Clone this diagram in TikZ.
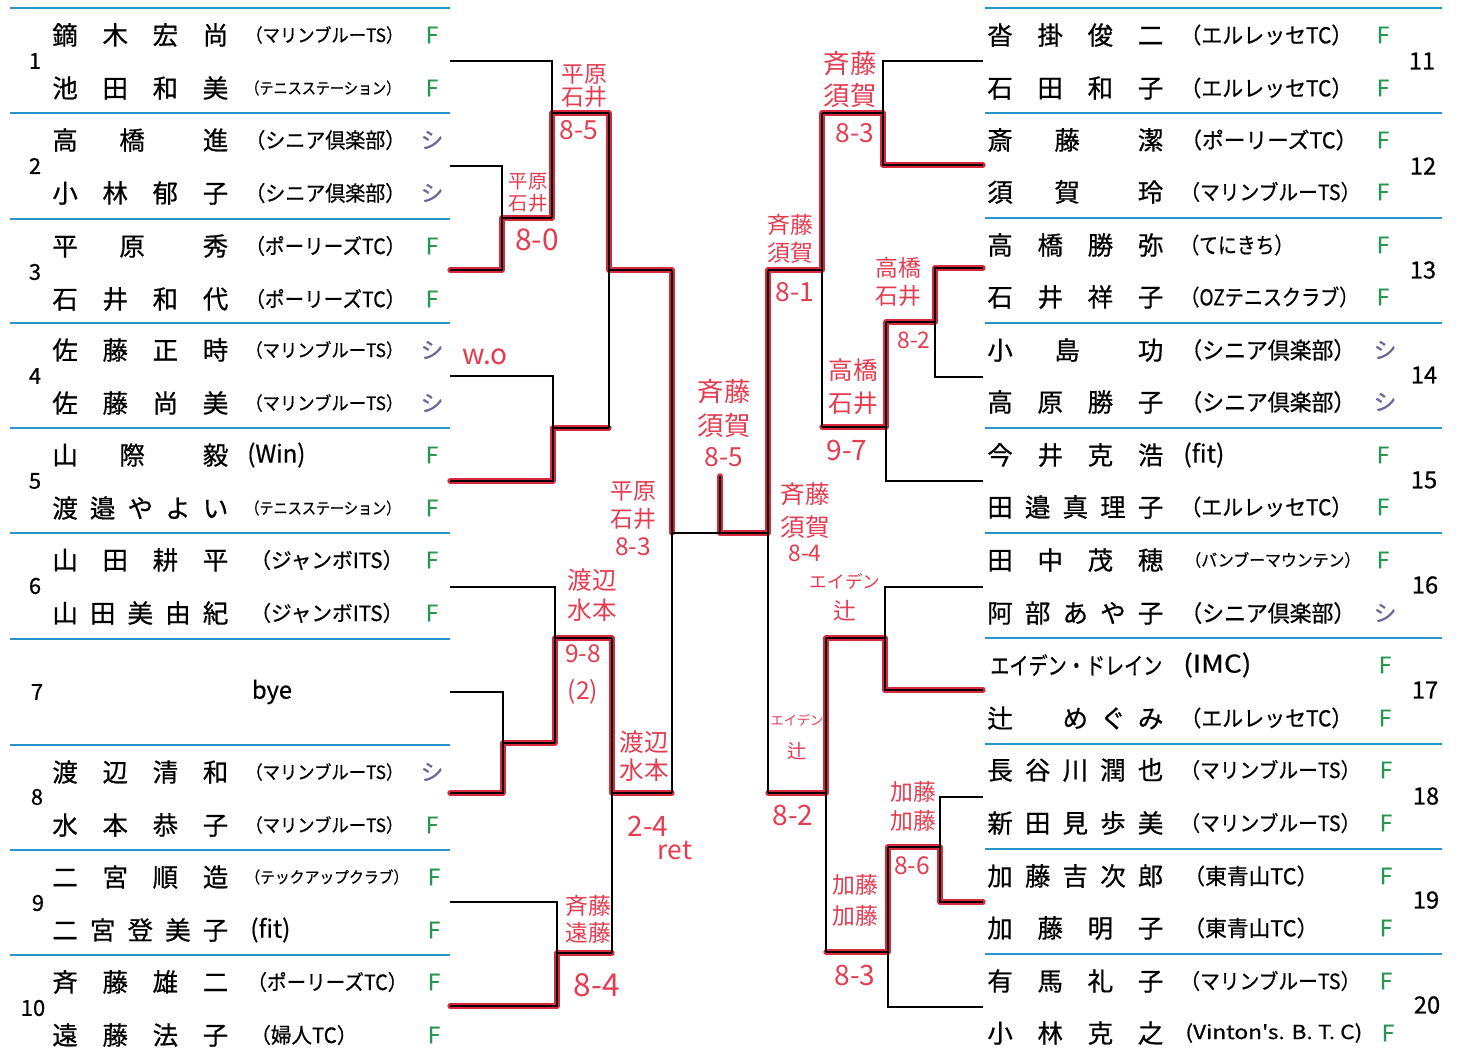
\documentclass[tikz,border=0pt]{standalone}
\usepackage{fontspec}
\usepackage{graphicx}
\setmainfont{Noto Sans CJK JP}
\newfontfamily\prt{Noto Sans CJK JP}[FakeBold=0.6]
\definecolor{sepblue}{RGB}{40,150,205}
\definecolor{fgreen}{RGB}{40,150,80}
\definecolor{shi}{RGB}{110,100,150}
\definecolor{wred}{RGB}{215,40,60}
\definecolor{hred}{RGB}{228,60,80}
\newcommand\fs[1]{\fontsize{#1}{#1}\selectfont}
% name with 4 or 5 chars spread in box
\newcommand\nm[4]{\node[anchor=west,inner sep=0pt,font=\prt\fs{14.5}] (#1) at (#2,#3) {\makebox[3.52cm]{#4}};}
% 3-char name
\newcommand\nmiii[6]{\node[anchor=west,inner sep=0pt,font=\prt\fs{14.5}] (#1) at (#2,#3) {\makebox[3.52cm]{#4\hspace{0.832cm}#5\hfill #6}};}
% club text fitted to width
\newcommand\cl[6]{\node[anchor=west,inner sep=0pt,font=\prt\fs{#4}] (#1) at (#2,#3) {\resizebox{#5cm}{\height}{#6}};}
\newcommand\hw[5]{\node[hwst,font=\fs{#4}] (#1) at (#2,#3) {#5};}
\begin{document}
\begin{tikzpicture}[x=0.02cm,y=-0.02cm,
  bk/.style={draw=black,line width=1pt},
  rd/.style={draw=wred,line width=3pt,line cap=round,line join=round,xshift=0.07cm,yshift=-0.07cm},
  sepline/.style={draw=sepblue,line width=1.4pt},
  hwst/.style={text=hred,inner sep=0pt,align=center},
  mkF/.style={text=fgreen,font=\prt\fs{13},inner sep=0pt},
  mkS/.style={text=shi,font=\prt\fs{13},inner sep=0pt},
  num/.style={font=\prt\fs{12.5},inner sep=0pt},
  numR/.style={font=\prt\fs{13.5},inner sep=0pt}]
\useasboundingbox[fill=white] (0,0) rectangle (1459,1052);

% separators
\foreach \t in {8,113,219,323,428,533,639,745,850,955} \draw[sepline] (10,\t) -- (450,\t);
\foreach \t in {8,113,218,323,428,533,638,744,849,954} \draw[sepline] (985,\t) -- (1442,\t);

% ---------------- coordinates ----------------
\coordinate (L1) at (450,61);  \coordinate (L2) at (450,166);
\coordinate (L3) at (450,270); \coordinate (L4) at (450,376);
\coordinate (L5) at (450,481); \coordinate (L6) at (450,587);
\coordinate (L7) at (450,692); \coordinate (L8) at (450,793);
\coordinate (L9) at (450,902); \coordinate (L10) at (450,1006);
\coordinate (A23) at (502,218); \coordinate (A1) at (552,113);
\coordinate (A45) at (553,428); \coordinate (AQ1) at (609,270);
\coordinate (A78) at (503,743); \coordinate (A6) at (555,638);
\coordinate (A910) at (557,953); \coordinate (AQ2) at (612,793);
\coordinate (AS) at (672,533); \coordinate (Fin) at (720,533);
\coordinate (Champ) at (720,476);
\coordinate (R11) at (983,61);  \coordinate (R12) at (983,165);
\coordinate (R13) at (983,268); \coordinate (R14) at (983,377);
\coordinate (R15) at (983,481); \coordinate (R16) at (983,587);
\coordinate (R17) at (983,690); \coordinate (R18) at (983,797);
\coordinate (R19) at (983,902); \coordinate (R20) at (983,1007);
\coordinate (B1112) at (883,113); \coordinate (B1314) at (935,322);
\coordinate (B15) at (886,427); \coordinate (BQ3) at (822,270);
\coordinate (B1617) at (885,638); \coordinate (B1819) at (940,847);
\coordinate (B20) at (888,952); \coordinate (BQ4) at (826,793);
\coordinate (BS) at (768,533);

% ---------------- winner paths (red) ----------------
\draw[rd] (L3) -| (A23) -| (A1) -| (AQ1) -| (AS);
\draw[rd] (L5) -| (A45) -- (AQ1 |- A45);
\draw[rd] (L8) -| (A78) -| (A6) -| (AQ2) -- (AS |- AQ2);
\draw[rd] (L10) -| (A910) -- (AQ2 |- A910);
\draw[rd] (R12) -| (B1112) -| (BQ3) -| (BS) -| (Champ);
\draw[rd] (R13) -| (B1314) -| (B15) -- (BQ3 |- B15);
\draw[rd] (R17) -| (B1617) -| (BQ4) -- (BS |- BQ4);
\draw[rd] (R19) -| (B1819) -| (B20) -- (BQ4 |- B20);

% ---------------- bracket (black) ----------------
\draw[bk] (L2) -| (A23) |- (L3);
\draw[bk] (A23) -- (A1 |- A23);
\draw[bk] (L1) -| (A1) -- (A1 |- A23);
\draw[bk] (A1) -- (AQ1 |- A1);
\draw[bk] (L4) -| (A45) |- (L5);
\draw[bk] (A45) -- (AQ1 |- A45);
\draw[bk] (AQ1 |- A1) -- (AQ1 |- A45);
\draw[bk] (AQ1) -- (AS |- AQ1);
\draw[bk] (L7) -| (A78) |- (L8);
\draw[bk] (A78) -- (A6 |- A78);
\draw[bk] (L6) -| (A6) -- (A6 |- A78);
\draw[bk] (A6) -- (AQ2 |- A6);
\draw[bk] (L9) -| (A910) |- (L10);
\draw[bk] (A910) -- (AQ2 |- A910);
\draw[bk] (AQ2 |- A6) -- (AQ2 |- A910);
\draw[bk] (AQ2) -- (AS |- AQ2);
\draw[bk] (AS |- AQ1) -- (AS |- AQ2);
\draw[bk] (AS) -- (BS);
\draw[bk] (Fin) -- (Champ);
\draw[bk] (R11) -| (B1112) |- (R12);
\draw[bk] (B1112) -- (BQ3 |- B1112);
\draw[bk] (R13) -| (B1314) |- (R14);
\draw[bk] (B1314) -- (B15 |- B1314);
\draw[bk] (R15) -| (B15) -- (B15 |- B1314);
\draw[bk] (B15) -- (BQ3 |- B15);
\draw[bk] (BQ3 |- B1112) -- (BQ3 |- B15);
\draw[bk] (BQ3) -- (BS |- BQ3);
\draw[bk] (R16) -| (B1617) |- (R17);
\draw[bk] (B1617) -- (BQ4 |- B1617);
\draw[bk] (R18) -| (B1819) |- (R19);
\draw[bk] (B1819) -- (B20 |- B1819);
\draw[bk] (R20) -| (B20) -- (B20 |- B1819);
\draw[bk] (B20) -- (BQ4 |- B20);
\draw[bk] (BQ4 |- B1617) -- (BQ4 |- B20);
\draw[bk] (BQ4) -- (BS |- BQ4);
\draw[bk] (BS |- BQ3) -- (BS |- BQ4);

% ---------------- left entries ----------------
\node[num] (N1) at (35,61) {1};
\node[num] (N2) at (35,166) {2};
\node[num] (N3) at (35,272) {3};
\node[num] (N4) at (35,376) {4};
\node[num] (N5) at (35,481) {5};
\node[num] (N6) at (35,586) {6};
\node[num] (N7) at (37,692) {7};
\node[num] (N8) at (37,797) {8};
\node[num] (N9) at (38,903) {9};
\node[num] (N10) at (33,1008) {10};

\nm{n1a}{52}{35}{鏑\hfill 木\hfill 宏\hfill 尚}
\cl{c1a}{245}{35}{10.5}{3.16}{（マリンブルーTS）}
\node[mkF] (m1a) at (432,35) {F};
\nm{n1b}{52}{88}{池\hfill 田\hfill 和\hfill 美}
\cl{c1b}{245}{88}{9}{3.10}{（テニスステーション）}
\node[mkF] (m1b) at (432,88) {F};

\nmiii{n2a}{52}{140}{高}{橋}{進}
\cl{c2a}{245}{140}{12}{3.2}{（シニア倶楽部）}
\node[mkS] (m2a) at (432,140) {シ};
\nm{n2b}{52}{193}{小\hfill 林\hfill 郁\hfill 子}
\cl{c2b}{245}{193}{12}{3.2}{（シニア倶楽部）}
\node[mkS] (m2b) at (432,193) {シ};

\nmiii{n3a}{52}{246}{平}{原}{秀}
\cl{c3a}{245}{246}{12}{3.2}{（ポーリーズTC）}
\node[mkF] (m3a) at (432,246) {F};
\nm{n3b}{52}{299}{石\hfill 井\hfill 和\hfill 代}
\cl{c3b}{245}{299}{12}{3.2}{（ポーリーズTC）}
\node[mkF] (m3b) at (432,299) {F};

\nm{n4a}{52}{350}{佐\hfill 藤\hfill 正\hfill 時}
\cl{c4a}{245}{350}{10.5}{3.16}{（マリンブルーTS）}
\node[mkS] (m4a) at (432,350) {シ};
\nm{n4b}{52}{403}{佐\hfill 藤\hfill 尚\hfill 美}
\cl{c4b}{245}{403}{10.5}{3.16}{（マリンブルーTS）}
\node[mkS] (m4b) at (432,403) {シ};

\nmiii{n5a}{52}{455}{山}{際}{毅}
\cl{c5a}{247}{455}{14}{1.16}{(Win)}
\node[mkF] (m5a) at (432,455) {F};
\nm{n5b}{52}{508}{渡\hfill 邉\hfill や\hfill よ\hfill い}
\cl{c5b}{245}{508}{9}{3.10}{（テニスステーション）}
\node[mkF] (m5b) at (432,508) {F};

\nm{n6a}{52}{560}{山\hfill 田\hfill 耕\hfill 平}
\cl{c6a}{250}{560}{12}{3.06}{（ジャンボITS）}
\node[mkF] (m6a) at (432,560) {F};
\nm{n6b}{52}{613}{山\hfill 田\hfill 美\hfill 由\hfill 紀}
\cl{c6b}{250}{613}{12}{3.06}{（ジャンボITS）}
\node[mkF] (m6b) at (432,613) {F};

\node[font=\prt\fs{13.5},inner sep=0pt] (bye) at (272,692) {bye};

\nm{n8a}{52}{772}{渡\hfill 辺\hfill 清\hfill 和}
\cl{c8a}{245}{772}{10.5}{3.16}{（マリンブルーTS）}
\node[mkS] (m8a) at (432,772) {シ};
\nm{n8b}{52}{825}{水\hfill 本\hfill 恭\hfill 子}
\cl{c8b}{245}{825}{10.5}{3.16}{（マリンブルーTS）}
\node[mkF] (m8b) at (432,825) {F};

\nm{n9a}{52}{877}{二\hfill 宮\hfill 順\hfill 造}
\cl{c9a}{245}{877}{9}{3.26}{（テックアップクラブ）}
\node[mkF] (m9a) at (434,877) {F};
\nm{n9b}{52}{930}{二\hfill 宮\hfill 登\hfill 美\hfill 子}
\cl{c9b}{250}{930}{14}{0.8}{(fit)}
\node[mkF] (m9b) at (434,930) {F};

\nm{n10a}{52}{982}{斉\hfill 藤\hfill 雄\hfill 二}
\cl{c10a}{247}{982}{12}{3.2}{（ポーリーズTC）}
\node[mkF] (m10a) at (434,982) {F};
\nm{n10b}{52}{1035}{遠\hfill 藤\hfill 法\hfill 子}
\cl{c10b}{250}{1035}{12}{2.14}{（婦人TC）}
\node[mkF] (m10b) at (434,1035) {F};

% ---------------- right entries ----------------
\node[numR] (N11) at (1422,61) {11};
\node[numR] (N12) at (1423,166) {12};
\node[numR] (N13) at (1423,270) {13};
\node[numR] (N14) at (1424,375) {14};
\node[numR] (N15) at (1424,480) {15};
\node[numR] (N16) at (1425,585) {16};
\node[numR] (N17) at (1425,690) {17};
\node[numR] (N18) at (1426,796) {18};
\node[numR] (N19) at (1426,900) {19};
\node[numR] (N20) at (1427,1005) {20};

\nm{n11a}{987}{35}{沓\hfill 掛\hfill 俊\hfill 二}
\cl{c11a}{1180}{35}{12.5}{3.44}{（エルレッセTC）}
\node[mkF] (m11a) at (1383,35) {F};
\nm{n11b}{987}{88}{石\hfill 田\hfill 和\hfill 子}
\cl{c11b}{1180}{88}{12.5}{3.44}{（エルレッセTC）}
\node[mkF] (m11b) at (1383,88) {F};

\nmiii{n12a}{987}{140}{斎}{藤}{潔}
\cl{c12a}{1180}{140}{12.5}{3.54}{（ポーリーズTC）}
\node[mkF] (m12a) at (1383,140) {F};
\nmiii{n12b}{987}{192}{須}{賀}{玲}
\cl{c12b}{1180}{192}{12}{3.6}{（マリンブルーTS）}
\node[mkF] (m12b) at (1383,192) {F};

\nm{n13a}{987}{245}{高\hfill 橋\hfill 勝\hfill 弥}
\cl{c13a}{1180}{245}{12.5}{2.26}{（てにきち）}
\node[mkF] (m13a) at (1383,245) {F};
\nm{n13b}{987}{297}{石\hfill 井\hfill 祥\hfill 子}
\cl{c13b}{1180}{297}{12.5}{3.56}{（OZテニスクラブ）}
\node[mkF] (m13b) at (1383,297) {F};

\nmiii{n14a}{987}{350}{小}{島}{功}
\cl{c14a}{1180}{350}{13}{3.5}{（シニア倶楽部）}
\node[mkS] (m14a) at (1385,350) {シ};
\nm{n14b}{987}{402}{高\hfill 原\hfill 勝\hfill 子}
\cl{c14b}{1180}{402}{13}{3.5}{（シニア倶楽部）}
\node[mkS] (m14b) at (1385,402) {シ};

\nm{n15a}{987}{455}{今\hfill 井\hfill 克\hfill 浩}
\cl{c15a}{1183}{455}{14}{0.82}{(fit)}
\node[mkF] (m15a) at (1383,455) {F};
\nm{n15b}{987}{507}{田\hfill 邉\hfill 真\hfill 理\hfill 子}
\cl{c15b}{1180}{507}{12.5}{3.44}{（エルレッセTC）}
\node[mkF] (m15b) at (1383,507) {F};

\nm{n16a}{987}{560}{田\hfill 中\hfill 茂\hfill 穂}
\cl{c16a}{1185}{560}{9.5}{3.5}{（バンブーマウンテン）}
\node[mkF] (m16a) at (1383,560) {F};
\nm{n16b}{987}{613}{阿\hfill 部\hfill あ\hfill や\hfill 子}
\cl{c16b}{1180}{613}{13}{3.5}{（シニア倶楽部）}
\node[mkS] (m16b) at (1385,613) {シ};

\node[anchor=west,inner sep=0pt,font=\prt\fs{13.5}] (n17a) at (990,665) {\resizebox{3.44cm}{\height}{エイデン・ドレイン}};
\cl{c17a}{1183}{665}{14}{1.36}{(IMC)}
\node[mkF] (m17a) at (1385,665) {F};
\nm{n17b}{987}{718}{辻\hfill\hphantom{め}\hfill め\hfill ぐ\hfill み}
\cl{c17b}{1180}{718}{12.5}{3.44}{（エルレッセTC）}
\node[mkF] (m17b) at (1385,718) {F};

\nm{n18a}{987}{770}{長\hfill 谷\hfill 川\hfill 潤\hfill 也}
\cl{c18a}{1180}{770}{12}{3.6}{（マリンブルーTS）}
\node[mkF] (m18a) at (1386,770) {F};
\nm{n18b}{987}{823}{新\hfill 田\hfill 見\hfill 歩\hfill 美}
\cl{c18b}{1180}{823}{12}{3.6}{（マリンブルーTS）}
\node[mkF] (m18b) at (1386,823) {F};

\nm{n19a}{987}{876}{加\hfill 藤\hfill 吉\hfill 次\hfill 郎}
\cl{c19a}{1183}{876}{12.5}{2.7}{（東青山TC）}
\node[mkF] (m19a) at (1386,876) {F};
\nm{n19b}{987}{928}{加\hfill 藤\hfill 明\hfill 子}
\cl{c19b}{1183}{928}{12.5}{2.7}{（東青山TC）}
\node[mkF] (m19b) at (1386,928) {F};

\nm{n20a}{987}{981}{有\hfill 馬\hfill 礼\hfill 子}
\cl{c20a}{1180}{981}{12}{3.6}{（マリンブルーTS）}
\node[mkF] (m20a) at (1386,981) {F};
\nm{n20b}{987}{1033}{小\hfill 林\hfill 克\hfill 之}
\cl{c20b}{1185}{1033}{11}{3.54}{(Vinton's. B. T. C)}
\node[mkF] (m20b) at (1388,1033) {F};

% ---------------- handwritten results ----------------
\hw{h1a}{584}{74}{13}{平原}
\hw{h1b}{584}{97}{13}{石井}
\hw{h1c}{579}{130}{15}{8-5}
\hw{h2a}{528}{182}{11}{平原}
\hw{h2b}{528}{203}{11}{石井}
\hw{h2c}{537}{240}{17}{8-0}
\hw{h3}{485}{357}{16}{w.o}
\hw{h4a}{633}{491}{13}{平原}
\hw{h4b}{633}{519}{13}{石井}
\hw{h4c}{633}{547}{14}{8-3}
\hw{h5a}{592}{580}{14}{渡辺}
\hw{h5b}{592}{610}{14}{水本}
\hw{h5c}{583}{654}{14}{9-8}
\hw{h5d}{583}{692}{14}{(2)}
\hw{h6a}{644}{742}{14}{渡辺}
\hw{h6b}{644}{770}{14}{水本}
\hw{h7a}{648}{826}{16}{2-4}
\hw{h7b}{675}{850}{15}{ret}
\hw{h8a}{588}{906}{13}{斉藤}
\hw{h8b}{588}{933}{13}{遠藤}
\hw{h8c}{597}{985}{18}{8-4}
\hw{h9a}{724}{392}{15}{斉藤}
\hw{h9b}{724}{426}{15}{須賀}
\hw{h9c}{724}{457}{15}{8-5}
\hw{r1a}{850}{64}{15}{斉藤}
\hw{r1b}{850}{96}{15}{須賀}
\hw{r1c}{855}{133}{15}{8-3}
\hw{r2a}{790}{225}{13}{斉藤}
\hw{r2b}{790}{253}{13}{須賀}
\hw{r2c}{795}{292}{15}{8-1}
\hw{r3a}{898}{268}{13}{高橋}
\hw{r3b}{898}{296}{13}{石井}
\hw{r3c}{914}{340}{13}{8-2}
\hw{r4a}{853}{370}{14}{高橋}
\hw{r4b}{853}{403}{14}{石井}
\hw{r4c}{847}{450}{16}{9-7}
\hw{r5a}{805}{494}{14}{斉藤}
\hw{r5b}{805}{527}{14}{須賀}
\hw{r5c}{805}{553}{13}{8-4}
\hw{r6a}{845}{582}{10}{エイデン}
\hw{r6b}{845}{611}{13}{辻}
\hw{r7a}{797}{720}{7.5}{エイデン}
\hw{r7b}{797}{751}{11}{辻}
\hw{r8}{793}{815}{16}{8-2}
\hw{r9a}{913}{792}{13}{加藤}
\hw{r9b}{913}{821}{13}{加藤}
\hw{r9c}{912}{866}{14}{8-6}
\hw{r10a}{855}{885}{13}{加藤}
\hw{r10b}{855}{916}{13}{加藤}
\hw{r10c}{855}{975}{16}{8-3}
\end{tikzpicture}
\end{document}
